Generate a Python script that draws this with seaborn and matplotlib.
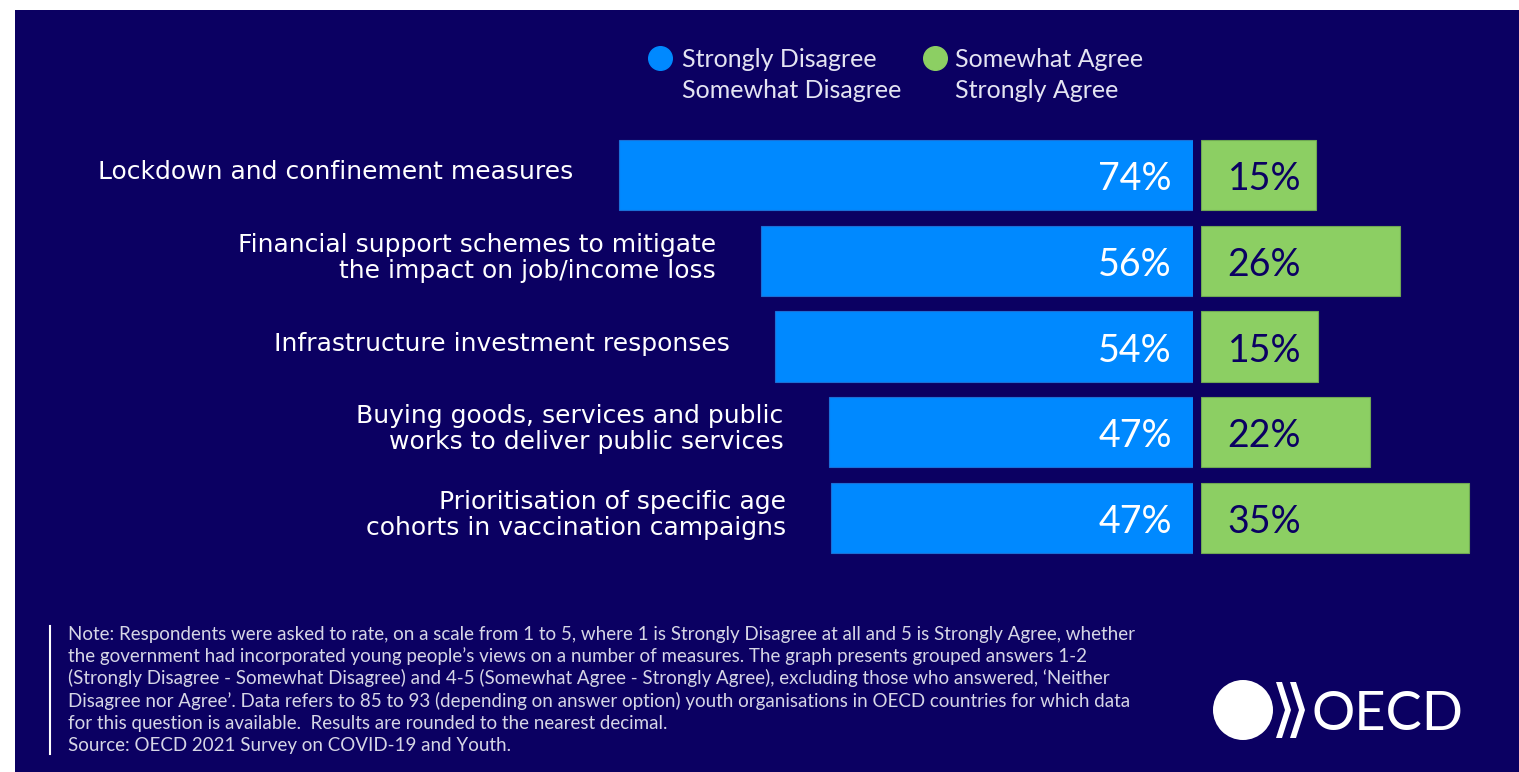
import matplotlib
matplotlib.use("Agg")
import matplotlib.pyplot as plt
from matplotlib.patches import Rectangle, Ellipse, Polygon
from matplotlib.lines import Line2D
import seaborn as sns
import pandas as pd

# ---------------- data ----------------
measures = [
    "Lockdown and confinement measures",
    "Financial support schemes to mitigate\nthe impact on job/income loss",
    "Infrastructure investment responses",
    "Buying goods, services and public\nworks to deliver public services",
    "Prioritisation of specific age\ncohorts in vaccination campaigns",
]
disagree = [74.4, 56.0, 54.2, 47.2, 46.9]
agree = [15.0, 25.9, 15.2, 21.9, 34.8]
legend_disagree = "Strongly Disagree\nSomewhat Disagree"
legend_agree = "Somewhat Agree\nStrongly Agree"
note_lines = [
    "Note: Respondents were asked to rate, on a scale from 1 to 5, where 1 is Strongly Disagree at all and 5 is Strongly Agree, whether",
    "the government had incorporated young people\u2019s views on a number of measures. The graph presents grouped answers 1-2",
    "(Strongly Disagree - Somewhat Disagree) and 4-5 (Somewhat Agree - Strongly Agree), excluding those who answered, \u2018Neither",
    "Disagree nor Agree\u2019. Data refers to 85 to 93 (depending on answer option) youth organisations in OECD countries for which data",
    "for this question is available.  Results are rounded to the nearest decimal.",
    "Source: OECD 2021 Survey on COVID-19 and Youth.",
]

df = pd.DataFrame({"measure": measures, "disagree": disagree, "agree": agree})

# ---------------- style ----------------
NAVY = "#0B0062"
BLUE = "#0089FF"
GREEN = "#8CCF63"
LEG = "#E4E4F2"
NOTE = "#D6D6E6"

W, H = 1519, 772
fig = plt.figure(figsize=(W / 100, H / 100), dpi=100, facecolor="white")


def fx(x):
    return x / W


def fy(y):
    return 1 - y / H


fig.add_artist(Rectangle((fx(15), 0), 1 - fx(15), fy(10), transform=fig.transFigure,
                         facecolor=NAVY, edgecolor="none", zorder=-5))

SCALE = 7.72  # pixels per percentage point
top_px, bot_px = 132, 561
axL = fig.add_axes([fx(15), fy(bot_px), (1193 - 15) / W, (bot_px - top_px) / H])
axR = fig.add_axes([fx(1200.5), fy(bot_px), (W - 1200.5) / W, (bot_px - top_px) / H])

sns.barplot(data=df, x="disagree", y="measure", orient="h", color=BLUE, saturation=1,
            width=0.82, edgecolor="#1B6FD6", linewidth=0.8, ax=axL)
sns.barplot(data=df, x="agree", y="measure", orient="h", color=GREEN, saturation=1,
            width=0.82, edgecolor="#6FA853", linewidth=0.8, ax=axR)

axL.set_xlim((1193 - 15) / SCALE, 0)
axR.set_xlim(0, (W - 1200.5) / SCALE)
for ax in (axL, axR):
    ax.set_ylim(len(measures) - 0.5, -0.5)
    ax.set_facecolor("none")
    ax.axis("off")

for i, (m, d, a) in enumerate(zip(measures, disagree, agree)):
    axL.annotate(m, xy=(d, i), xytext=(-45, 3), textcoords="offset pixels",
                 ha="right", va="center", multialignment="right", color="white",
                 fontsize=18, family="DejaVu Sans", linespacing=1.12)
    axL.annotate(f"{round(d)}%", xy=(0, i), xytext=(-21, -15), textcoords="offset pixels",
                 ha="right", va="baseline", color="white", fontsize=27, family="Lato")
    axR.annotate(f"{round(a)}%", xy=(0, i), xytext=(27, -15), textcoords="offset pixels",
                 ha="left", va="baseline", color=NAVY, fontsize=27, family="Lato")

# ---------------- legend ----------------
for cx, tx, col, lab in [(660, 682, BLUE, legend_disagree), (935, 955, GREEN, legend_agree)]:
    fig.add_artist(Line2D([fx(cx)], [fy(58)], marker="o", markersize=17, color=col,
                          linestyle="none", transform=fig.transFigure))
    l1, l2 = lab.split("\n")
    fig.text(fx(tx), fy(67), l1, ha="left", va="baseline", fontsize=18, family="Lato", color=LEG)
    fig.text(fx(tx), fy(98), l2, ha="left", va="baseline", fontsize=18, family="Lato", color=LEG)

# ---------------- note ----------------
fig.add_artist(Line2D([fx(50), fx(50)], [fy(626), fy(754)], color="white", lw=1.5,
                      transform=fig.transFigure))
for k, line in enumerate(note_lines):
    fig.text(fx(68), fy(640 + 22.2 * k), line, ha="left", va="baseline",
             fontsize=13.5, family="Lato", color=NOTE)

# ---------------- OECD logo ----------------
fig.add_artist(Ellipse((fx(1243), fy(710)), 60 / W, 60 / H, transform=fig.transFigure,
                       facecolor="white", edgecolor="none"))
for x0 in (1276, 1290):
    pts = [(x0, 682), (x0 + 6, 682), (x0 + 15, 710), (x0 + 6, 738), (x0, 738), (x0 + 9, 710)]
    fig.add_artist(Polygon([(fx(px), fy(py)) for px, py in pts], closed=True,
                           transform=fig.transFigure, facecolor="white", edgecolor="none"))
fig.text(fx(1311), fy(730), "OECD", ha="left", va="baseline", fontsize=39,
         family="Lato", color="white")

fig.savefig("out.png", dpi=100, facecolor="white")
